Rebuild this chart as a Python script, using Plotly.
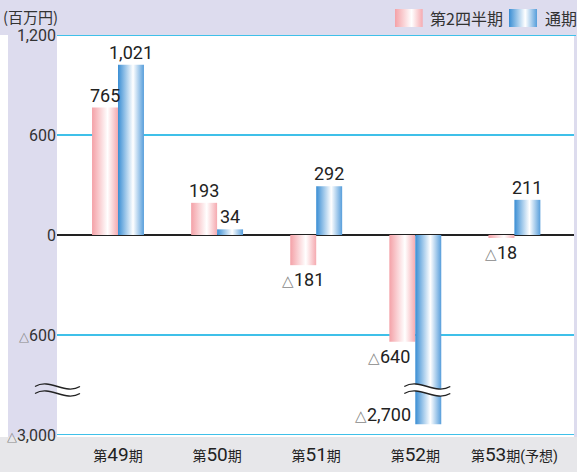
import re
import plotly.graph_objects as go

# ---------------- data ----------------
periods = ["第49期", "第50期", "第51期", "第52期", "第53期(予想)"]
series_names = ["第2四半期", "通期"]
q2_values = [765, 193, -181, -640, -18]
full_values = [1021, 34, 292, -2700, 211]
y_tick_values = [1200, 600, 0, -600, -3000]
y_tick_labels = ["1,200", "600", "0", "△600", "△3,000"]
unit_label = "(百万円)"

# ---------------- layout constants ----------------
W, H = 577, 472
PLOT_L, PLOT_R, PLOT_T, PLOT_B = 57, 574, 35, 435
LAV = "#dddcee"
GRAY = "#e7e7ea"
GRID = "#3fc0e9"
TXT = "#222222"
LBL = "Roboto, sans-serif"
CJK = "Noto Sans CJK JP, sans-serif"

# axis break: linear down to BREAK, compressed below
BREAK = -700
K = (1200 + BREAK) / (3000 + BREAK)


def ty(v):
    return v if v >= BREAK else BREAK + (v - BREAK) * K


def px(x):
    return x / W


def py(y):
    return (PLOT_B - y) / PLOT_B


BAR_W = 0.262
PINK_SCALE = [[0, "#f4a1a7"], [0.6, "#ffffff"], [1, "#f5aab0"]]
BLUE_SCALE = [[0, "#3a8ed4"], [0.58, "#ffffff"], [1, "#579edb"]]

fig = go.Figure()


def bar_trace(x0, x1, v, scale, xa="x", ya="y", base=0):
    return go.Scatter(
        x=[x0, x0, x1, x1, x0], y=[base, v, v, base, base],
        xaxis=xa, yaxis=ya,
        mode="lines", fill="toself", line=dict(width=0, color="rgba(0,0,0,0)"),
        fillgradient=dict(type="horizontal", colorscale=scale),
        hoverinfo="skip", showlegend=False,
    )


for i, (q, f) in enumerate(zip(q2_values, full_values)):
    fig.add_trace(bar_trace(i - BAR_W, i, ty(q), PINK_SCALE))
    fig.add_trace(bar_trace(i, i + BAR_W, ty(f), BLUE_SCALE))

# ---------------- value labels ----------------
TRI = "<span style='font-size:15px;color:#888'>△</span>"


def fmt(v):
    s = f"{abs(v):,}"
    return (TRI + s) if v < 0 else s


annotations = []
for i, (q, f) in enumerate(zip(q2_values, full_values)):
    # pink (quarter)
    if q >= 0:
        annotations.append(dict(x=i - BAR_W / 2, y=ty(q), text=fmt(q), yanchor="bottom",
                                xanchor="center"))
    elif f < 0:
        annotations.append(dict(x=i, y=ty(q), text=fmt(q), yanchor="top",
                                xanchor="right", xshift=-3, yshift=-2))
    else:
        annotations.append(dict(x=i - BAR_W / 2, y=ty(q), text=fmt(q), yanchor="top",
                                xanchor="center", yshift=-2))
    # blue (full year)
    if f >= 0:
        annotations.append(dict(x=i + BAR_W / 2, y=ty(f), text=fmt(f), yanchor="bottom",
                                xanchor="center"))
    else:
        annotations.append(dict(x=i, y=ty(f), text=fmt(f), yanchor="bottom",
                                xanchor="right", xshift=-2, yshift=-3))
for a in annotations:
    a.update(xref="x", yref="y", showarrow=False,
             font=dict(family=LBL, size=18, color=TXT))

# unit label
annotations.append(dict(xref="paper", yref="paper", x=px(1), y=py(16), xanchor="left",
                        yanchor="middle", text=unit_label, showarrow=False,
                        font=dict(family=CJK, size=15, color="#333")))

# legend texts
annotations.append(dict(xref="paper", yref="paper", x=px(428), y=py(18), xanchor="left",
                        yanchor="middle", text=series_names[0], showarrow=False,
                        font=dict(family=CJK, size=16, color="#333")))
annotations.append(dict(xref="paper", yref="paper", x=px(543), y=py(18), xanchor="left",
                        yanchor="middle", text=series_names[1], showarrow=False,
                        font=dict(family=CJK, size=16, color="#333")))

# legend swatches on a small overlay axis (pixel units)
fig.add_trace(bar_trace(0, 27.7, 18, PINK_SCALE, xa="x2", ya="y2"))
fig.add_trace(bar_trace(114, 142, 18, BLUE_SCALE, xa="x2", ya="y2"))

# ---------------- background bands ----------------
shapes = [
    dict(type="rect", xref="paper", yref="paper", x0=0, x1=1, y0=py(PLOT_T), y1=py(0),
         fillcolor=LAV, line_width=0, layer="below"),
    dict(type="rect", xref="paper", yref="paper", x0=px(8), x1=px(PLOT_L), y0=py(437),
         y1=py(PLOT_T), fillcolor=LAV, line_width=0, layer="below"),
    dict(type="rect", xref="paper", yref="paper", x0=px(PLOT_R), x1=1, y0=py(437),
         y1=py(PLOT_T), fillcolor=LAV, line_width=0, layer="below"),
    dict(type="rect", xref="paper", yref="paper", x0=0, x1=1, y0=py(H), y1=py(437),
         fillcolor=GRAY, line_width=0, layer="below"),
]
# the gridlines on the two ends of the value axis
for v, xr in ((max(y_tick_values), 576), (min(y_tick_values), PLOT_R)):
    shapes.append(dict(type="line", xref="paper", yref="y", x0=px(PLOT_L), x1=px(xr),
                       y0=ty(v), y1=ty(v), line=dict(color=GRID, width=1.8),
                       layer="above"))


# ---------------- break marks ----------------
def wave(x0, x1, yc, h):
    w = x1 - x0
    return f"M{x0},{yc} C{x0 + w / 3},{yc + h} {x0 + 2 * w / 3},{yc - h} {x1},{yc}"


def band(x0, x1, yu, yl, h):
    w = x1 - x0
    return (f"M{x0},{yu} C{x0 + w / 3},{yu + h} {x0 + 2 * w / 3},{yu - h} {x1},{yu} "
            f"L{x1},{yl} C{x0 + 2 * w / 3},{yl - h} {x0 + w / 3},{yl + h} {x0},{yl} Z")


YB = -930          # break position (axis units)
UPX = 6.0          # axis units per pixel
XU = 1 / 99.1      # category units per pixel
# on the axis
ax0, ax1 = px(35), px(80)
for dy in (3.5, -3.5):
    shapes.append(dict(type="path", xref="paper", yref="y",
                       path=wave(ax0, ax1, YB + dy * UPX, 9 * UPX),
                       line=dict(color="#222", width=1.4), layer="above"))
# on the long bar
bi = full_values.index(min(full_values))
bx0, bx1 = bi - 11 * XU, bi + 35 * XU
shapes.append(dict(type="path", xref="x", yref="y",
                   path=band(bx0, bx1, YB + 3.5 * UPX, YB - 3.5 * UPX, 9 * UPX),
                   fillcolor="white", line_width=0, layer="above"))
for dy in (3.5, -3.5):
    shapes.append(dict(type="path", xref="x", yref="y",
                       path=wave(bx0, bx1, YB + dy * UPX, 9 * UPX),
                       line=dict(color="#222", width=1.4), layer="above"))

# ---------------- axes ----------------
def cat_label(p):
    m = re.match(r"(第)(\d+)(.*)", p)
    return (f"<span style='font-size:14px'>{m.group(1)}</span>"
            f"<span style='font-size:19px'>{m.group(2)}</span>"
            f"<span style='font-size:14px'>{m.group(3)}</span>")


def y_label(s):
    return s.replace("△", "<span style='font-size:13px;color:#888'>△</span>")


x_lo = (PLOT_L - 118) / 99.1
x_hi = (PLOT_R - 118) / 99.1

fig.update_layout(
    width=W, height=H,
    margin=dict(l=0, r=0, t=0, b=H - PLOT_B, pad=0, autoexpand=False),
    paper_bgcolor="white", plot_bgcolor="rgba(0,0,0,0)",
    showlegend=False,
    xaxis=dict(domain=[px(PLOT_L), px(PLOT_R)], range=[x_lo, x_hi],
               tickvals=list(range(len(periods))),
               ticktext=[cat_label(p) for p in periods],
               showgrid=False, zeroline=False, showline=False, ticks="",
               ticklabelstandoff=6, automargin=False,
               tickfont=dict(family="Roboto, Noto Sans CJK JP, sans-serif", size=19, color=TXT),
               fixedrange=True),
    yaxis=dict(domain=[0, py(PLOT_T)], range=[ty(-3000), 1200],
               tickvals=[ty(v) for v in y_tick_values],
               ticktext=[y_label(s) for s in y_tick_labels],
               showgrid=True, gridcolor=GRID, gridwidth=1.6,
               zeroline=True, zerolinecolor="#222", zerolinewidth=1.5,
               showline=False, ticks="", automargin=False,
               tickfont=dict(family="Roboto, sans-serif", size=16, color="#333"),
               fixedrange=True),
    xaxis2=dict(domain=[px(395), px(545)], range=[0, 150], anchor="y2", visible=False,
                fixedrange=True),
    yaxis2=dict(domain=[py(27), py(9)], range=[0, 18], anchor="x2", visible=False,
                fixedrange=True),
    shapes=shapes,
    annotations=annotations,
)

fig.write_html("out.html")
